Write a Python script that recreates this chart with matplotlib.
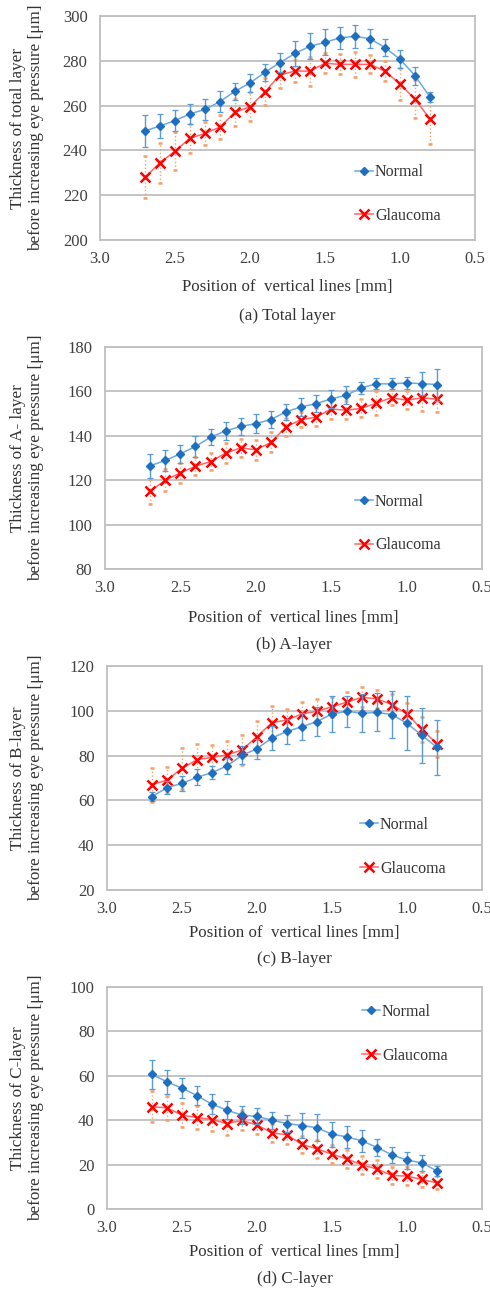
import matplotlib
matplotlib.use("Agg")
import matplotlib.pyplot as plt
from matplotlib.lines import Line2D

plt.rcParams['font.family'] = ['Liberation Serif', 'DejaVu Serif']

# posiciones de las lineas verticales [mm]
posiciones = [2.7, 2.6, 2.5, 2.4, 2.3, 2.2, 2.1, 2.0, 1.9, 1.8,
              1.7, 1.6, 1.5, 1.4, 1.3, 1.2, 1.1, 1.0, 0.9, 0.8]

# (a) capa total
total_normal = [248.7, 250.9, 253.3, 256.3, 258.3, 261.8, 266.4, 270.1, 274.9, 279.2,
                283.3, 286.5, 288.2, 290.3, 290.9, 289.9, 285.9, 280.7, 273.4, 263.8]
total_normal_err = [7.0, 5.5, 4.6, 4.6, 4.8, 4.7, 3.7, 4.2, 3.7, 4.4,
                    5.7, 5.9, 5.8, 5.0, 5.0, 4.3, 3.7, 3.9, 4.0, 2.4]
total_glauc = [228.0, 234.5, 239.7, 245.4, 247.6, 250.4, 257.0, 259.5, 266.2, 273.7,
               275.4, 275.4, 278.9, 278.4, 278.4, 278.4, 275.4, 269.6, 262.9, 254.0]
total_glauc_err = [9.3, 9.0, 8.5, 6.5, 5.0, 5.5, 6.0, 6.5, 6.0, 6.0,
                   5.0, 6.5, 4.5, 4.5, 5.5, 4.0, 4.5, 7.0, 8.5, 11.0]

# (b) capa A
a_normal = [126.5, 128.9, 131.9, 135.2, 139.4, 142.2, 144.2, 145.5, 147.3, 150.8,
            153.0, 154.5, 156.6, 158.3, 161.6, 163.4, 163.4, 163.8, 163.5, 163.1]
a_normal_err = [5.5, 4.8, 4.0, 4.6, 3.7, 4.2, 4.0, 4.4, 3.7, 3.7,
                4.0, 3.8, 4.1, 4.2, 2.7, 2.5, 2.5, 2.9, 5.3, 7.2]
a_glauc = [115.1, 120.0, 123.3, 126.3, 128.4, 132.2, 134.6, 133.7, 137.0, 144.0,
           147.3, 148.4, 152.1, 151.5, 152.4, 154.7, 157.2, 156.0, 157.1, 156.5]
a_glauc_err = [5.6, 5.0, 4.5, 4.0, 4.0, 4.5, 4.0, 4.5, 4.5, 4.0,
               3.5, 4.0, 4.5, 4.0, 4.0, 5.5, 3.5, 4.0, 6.0, 6.0]

# (c) capa B
b_normal = [61.7, 65.7, 67.6, 70.3, 72.4, 75.4, 80.1, 83.1, 87.9, 90.8,
            92.9, 95.2, 98.6, 99.8, 98.9, 99.3, 98.3, 94.4, 89.0, 83.7]
b_normal_err = [2.0, 3.0, 3.5, 3.5, 3.0, 3.5, 4.0, 4.5, 5.5, 5.5,
                6.0, 6.5, 8.0, 7.0, 8.5, 8.5, 10.5, 12.0, 12.3, 12.3]
b_glauc = [67.0, 69.1, 74.3, 78.2, 79.2, 80.3, 82.5, 88.5, 94.7, 95.9,
           98.6, 99.8, 101.8, 103.9, 106.0, 105.3, 102.8, 98.6, 91.7, 85.2]
b_glauc_err = [7.5, 6.0, 9.0, 7.0, 5.5, 6.0, 6.5, 7.0, 7.5, 5.0,
               5.5, 5.5, 4.5, 4.5, 4.5, 4.0, 4.5, 5.0, 5.5, 6.0]

# (d) capa C
c_normal = [60.6, 57.3, 54.4, 51.1, 47.2, 44.5, 42.3, 41.7, 40.0, 38.5,
            37.6, 36.6, 33.7, 32.5, 30.7, 27.7, 24.4, 22.0, 20.8, 17.1]
c_normal_err = [6.7, 5.4, 4.5, 4.3, 4.4, 4.0, 4.0, 3.6, 3.9, 4.0,
                5.7, 6.0, 5.7, 5.0, 5.1, 3.9, 3.6, 3.8, 3.6, 2.2]
c_glauc = [46.0, 45.6, 42.3, 41.2, 40.3, 38.5, 39.9, 37.8, 34.3, 33.4,
           29.1, 27.1, 24.7, 22.5, 19.9, 18.0, 15.1, 14.8, 13.3, 11.8]
c_glauc_err = [7.0, 5.5, 5.5, 5.0, 5.0, 5.0, 4.5, 4.0, 4.0, 4.0,
               4.0, 4.0, 4.0, 4.0, 4.0, 4.0, 4.0, 4.0, 3.5, 3.0]

paneles = [
    ("Thickness of total layer", "(a) Total layer", total_normal, total_normal_err,
     total_glauc, total_glauc_err, (200, 300)),
    ("Thickness of A- layer", "(b) A-layer", a_normal, a_normal_err,
     a_glauc, a_glauc_err, (80, 180)),
    ("Thickness of B-layer", "(c) B-layer", b_normal, b_normal_err,
     b_glauc, b_glauc_err, (20, 120)),
    ("Thickness of C-layer", "(d) C-layer", c_normal, c_normal_err,
     c_glauc, c_glauc_err, (0, 100)),
]

# cajas de los ejes en pixeles: izquierda, derecha, arriba, abajo
cajas = [(100, 475, 16, 240), (105, 482, 347, 569), (107, 482, 666, 890), (107, 482, 987, 1209)]
etiqueta_x_y = [287, 618, 933, 1252]
pie_y = [316, 645, 959, 1279]
leyenda_pos = [(0.68, 0.205), (0.663, 0.205), (0.675, 0.192), (0.68, 0.79)]

W, H = 490, 1294
fig = plt.figure(figsize=(W / 100, H / 100), dpi=100)

azul = '#1F6FC0'
azul_claro = '#6FA8DC'
rojo = '#FF0000'
rojo_claro = '#FF6666'
naranja = '#F5A06A'
gris = '#BFBFBF'
texto = '#333333'

for i, (ylab, pie, yn, en, yg, eg, lim) in enumerate(paneles):
    l, r, t, b = cajas[i]
    ax = fig.add_axes([l / W, (H - b) / H, (r - l) / W, (b - t) / H])

    cont = ax.errorbar(posiciones, yg, yerr=eg, color=rojo_claro, lw=1.1,
                       marker='x', ms=7, mec=rojo, mew=1.8,
                       ecolor=naranja, elinewidth=1.0, capsize=1.5, capthick=0.8,
                       zorder=3)
    cont[2][0].set_linestyle(':')

    ax.errorbar(posiciones, yn, yerr=en, color=azul_claro, lw=1.1,
                marker='D', ms=4.5, mfc=azul, mec=azul,
                ecolor='#5B9BD5', elinewidth=1.0, capsize=2, capthick=0.9,
                zorder=4)

    ax.set_xlim(3.0, 0.5)
    ax.set_ylim(*lim)
    ax.set_xticks([3.0, 2.5, 2.0, 1.5, 1.0, 0.5])
    ax.set_xticklabels(['3.0', '2.5', '2.0', '1.5', '1.0', '0.5'])
    ax.set_yticks(range(lim[0], lim[1] + 1, 20))
    ax.yaxis.grid(True, color=gris, lw=1.3)
    ax.set_axisbelow(True)
    for s in ax.spines.values():
        s.set_color(gris)
        s.set_linewidth(1.3)
    ax.tick_params(length=0, labelsize=12, colors='#404040')
    ax.tick_params(axis='y', pad=9)
    ax.tick_params(axis='x', pad=8)

    manijas = [
        Line2D([], [], color=azul_claro, lw=1.1, marker='D', ms=4.5, mfc=azul, mec=azul),
        Line2D([], [], color=rojo_claro, lw=1.1, marker='x', ms=7, mec=rojo, mew=1.8),
    ]
    ax.legend(manijas, ['Normal', 'Glaucoma'], loc='center left',
              bbox_to_anchor=leyenda_pos[i], frameon=False, fontsize=11.5,
              labelspacing=1.75, handlelength=1.1, handletextpad=0.15,
              borderpad=0, borderaxespad=0, labelcolor=texto)

    fig.text(27 / W, 1 - ((t + b) / 2) / H,
             ylab + "\nbefore increasing eye pressure [\u03bcm]",
             rotation=90, ha='center', va='center', fontsize=12.3,
             color=texto, linespacing=1.2)
    cx = (l + r) / 2
    fig.text(cx / W, 1 - etiqueta_x_y[i] / H, "Position of  vertical lines [mm]",
             ha='center', va='center', fontsize=12.2, color=texto)
    fig.text(cx / W, 1 - pie_y[i] / H, pie, ha='center', va='center',
             fontsize=12.3, color=texto)

fig.savefig('out.png', dpi=100)
plt.close()
